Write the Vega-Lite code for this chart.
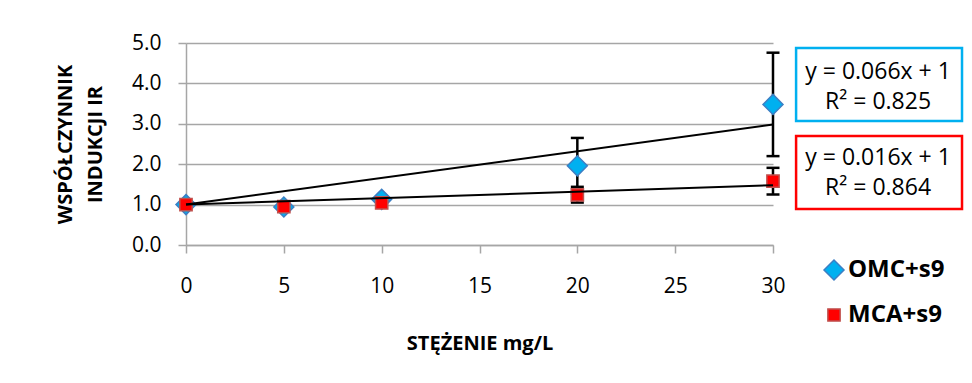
{
  "$schema": "https://vega.github.io/schema/vega-lite/v6.json",
  "width": 587,
  "height": 202,
  "autosize": "none",
  "padding": {"left": 186, "top": 43, "right": 199, "bottom": 138},
  "background": "white",
  "config": {"view": {"stroke": null}, "font": "Open Sans"},
  "datasets": {
    "points": [
      {"series": "OMC+s9", "conc": 0, "ir": 1.0},
      {"series": "OMC+s9", "conc": 5, "ir": 0.94},
      {"series": "OMC+s9", "conc": 10, "ir": 1.13},
      {"series": "OMC+s9", "conc": 20, "ir": 1.96},
      {"series": "OMC+s9", "conc": 30, "ir": 3.48},
      {"series": "MCA+s9", "conc": 0, "ir": 1.0},
      {"series": "MCA+s9", "conc": 5, "ir": 0.95},
      {"series": "MCA+s9", "conc": 10, "ir": 1.04},
      {"series": "MCA+s9", "conc": 20, "ir": 1.24},
      {"series": "MCA+s9", "conc": 30, "ir": 1.58}
    ],
    "errors": [
      {"series": "OMC+s9", "conc": 20, "lo": 1.27, "hi": 2.65},
      {"series": "OMC+s9", "conc": 30, "lo": 2.2, "hi": 4.76},
      {"series": "MCA+s9", "conc": 20, "lo": 1.05, "hi": 1.44},
      {"series": "MCA+s9", "conc": 30, "lo": 1.25, "hi": 1.91}
    ],
    "trend": [
      {"series": "OMC+s9", "conc": 0, "ir": 1.0},
      {"series": "OMC+s9", "conc": 30, "ir": 2.98},
      {"series": "MCA+s9", "conc": 0, "ir": 1.0},
      {"series": "MCA+s9", "conc": 30, "ir": 1.48}
    ],
    "eq": [
      {"series": "OMC+s9", "label": "y = 0.066x + 1\nR² = 0.825"},
      {"series": "MCA+s9", "label": "y = 0.016x + 1\nR² = 0.864"}
    ]
  },
  "layer": [
    {
      "data": {"name": "errors"},
      "mark": {"type": "rule", "color": "black", "strokeWidth": 2.5},
      "encoding": {
        "x": {
          "field": "conc", "type": "quantitative",
          "scale": {"domain": [0, 30], "nice": false, "zero": false},
          "axis": {
            "title": "STĘŻENIE mg/L",
            "values": [0, 5, 10, 15, 20, 25, 30],
            "grid": false, "labelFlush": false,
            "domainColor": "#A6A6A6", "domainWidth": 1.5,
            "tickColor": "#A6A6A6", "tickWidth": 1.5, "tickSize": 8,
            "labelFont": "Open Sans", "labelFontSize": 21, "labelColor": "black", "labelPadding": 22,
            "titleFont": "Open Sans", "titleFontSize": 20, "titleFontWeight": "bold", "titleColor": "black", "titlePadding": 37
          }
        },
        "y": {
          "field": "lo", "type": "quantitative",
          "scale": {"domain": [0, 5], "nice": false},
          "axis": {
            "title": ["WSPÓŁCZYNNIK", "INDUKCJI IR"],
            "values": [0, 1, 2, 3, 4, 5],
            "format": ".1f", "labelFlush": false,
            "grid": true, "gridColor": "#A6A6A6", "gridWidth": 1.5,
            "domainColor": "#A6A6A6", "domainWidth": 1.5,
            "tickColor": "#A6A6A6", "tickWidth": 1.5, "tickSize": 8,
            "labelFont": "Open Sans", "labelFontSize": 21, "labelColor": "black", "labelPadding": 17,
            "titleFont": "Open Sans", "titleFontSize": 20, "titleFontWeight": "bold", "titleColor": "black",
            "titlePadding": 26, "titleLineHeight": 30
          }
        },
        "y2": {"field": "hi"}
      }
    },
    {
      "data": {"name": "errors"},
      "mark": {"type": "tick", "orient": "horizontal", "color": "black", "size": 13, "thickness": 2.5, "opacity": 1},
      "encoding": {
        "x": {"field": "conc", "type": "quantitative"},
        "y": {"field": "lo", "type": "quantitative"}
      }
    },
    {
      "data": {"name": "errors"},
      "mark": {"type": "tick", "orient": "horizontal", "color": "black", "size": 13, "thickness": 2.5, "opacity": 1},
      "encoding": {
        "x": {"field": "conc", "type": "quantitative"},
        "y": {"field": "hi", "type": "quantitative"}
      }
    },
    {
      "data": {"name": "points"},
      "mark": {"type": "point", "filled": true, "opacity": 1, "strokeWidth": 1.5},
      "encoding": {
        "x": {"field": "conc", "type": "quantitative"},
        "y": {"field": "ir", "type": "quantitative"},
        "fill": {
          "field": "series", "type": "nominal",
          "scale": {"domain": ["OMC+s9", "MCA+s9"], "range": ["#00B0F0", "#FF0000"]},
          "legend": {
            "orient": "none", "legendX": 636, "legendY": 215, "title": null,
            "labelFont": "Open Sans", "labelFontSize": 24, "labelFontWeight": "bold", "labelColor": "black",
            "rowPadding": 20, "labelOffset": 2, "symbolStrokeWidth": 1.5
          }
        },
        "stroke": {
          "field": "series", "type": "nominal",
          "scale": {"domain": ["OMC+s9", "MCA+s9"], "range": ["#3C7FC4", "#C0504D"]}
        },
        "shape": {
          "field": "series", "type": "nominal",
          "scale": {"domain": ["OMC+s9", "MCA+s9"], "range": ["diamond", "square"]}
        },
        "size": {
          "field": "series", "type": "nominal",
          "scale": {"domain": ["OMC+s9", "MCA+s9"], "range": [400, 150]}
        }
      }
    },
    {
      "data": {"name": "trend"},
      "mark": {"type": "line", "color": "black", "strokeWidth": 2},
      "encoding": {
        "x": {"field": "conc", "type": "quantitative"},
        "y": {"field": "ir", "type": "quantitative"},
        "detail": {"field": "series", "type": "nominal"}
      }
    },
    {
      "data": {"name": "eq"},
      "transform": [{"filter": "datum.series == 'OMC+s9'"}],
      "mark": {"type": "rect", "fill": "white", "stroke": "#00B0F0", "strokeWidth": 2.5},
      "encoding": {
        "x": {"datum": 31.18, "type": "quantitative"},
        "x2": {"datum": 39.66},
        "y": {"datum": 4.876, "type": "quantitative"},
        "y2": {"datum": 3.069}
      }
    },
    {
      "data": {"name": "eq"},
      "transform": [{"filter": "datum.series == 'OMC+s9'"}],
      "mark": {"type": "text", "font": "Open Sans", "fontSize": 23, "color": "black", "lineBreak": "\n", "lineHeight": 30, "align": "center", "baseline": "middle"},
      "encoding": {
        "x": {"datum": 35.37, "type": "quantitative"},
        "y": {"datum": 4.282, "type": "quantitative"},
        "text": {"field": "label", "type": "nominal"}
      }
    },
    {
      "data": {"name": "eq"},
      "transform": [{"filter": "datum.series == 'MCA+s9'"}],
      "mark": {"type": "rect", "fill": "white", "stroke": "#FF0000", "strokeWidth": 2.5},
      "encoding": {
        "x": {"datum": 31.18, "type": "quantitative"},
        "x2": {"datum": 39.66},
        "y": {"datum": 2.698, "type": "quantitative"},
        "y2": {"datum": 0.891}
      }
    },
    {
      "data": {"name": "eq"},
      "transform": [{"filter": "datum.series == 'MCA+s9'"}],
      "mark": {"type": "text", "font": "Open Sans", "fontSize": 23, "color": "black", "lineBreak": "\n", "lineHeight": 30, "align": "center", "baseline": "middle"},
      "encoding": {
        "x": {"datum": 35.37, "type": "quantitative"},
        "y": {"datum": 2.153, "type": "quantitative"},
        "text": {"field": "label", "type": "nominal"}
      }
    }
  ]
}
